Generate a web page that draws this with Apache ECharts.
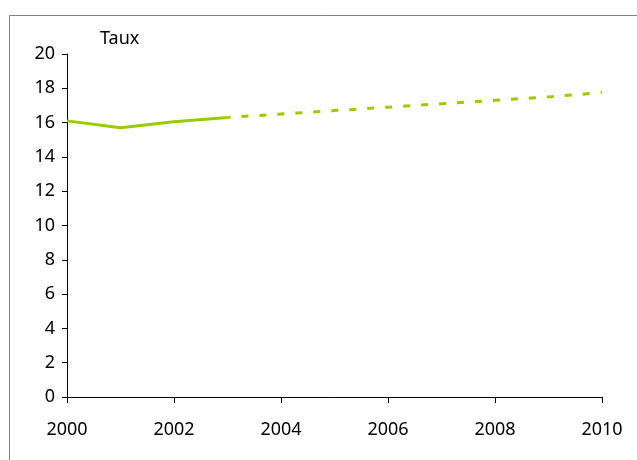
<!DOCTYPE html>
<html>
<head>
<meta charset="utf-8">
<script src="https://cdn.jsdelivr.net/npm/echarts@6/dist/echarts.min.js"></script>
<style>
html,body{margin:0;padding:0;background:#fff;}
#c{width:637px;height:460px;}
</style>
</head>
<body>
<div id="c"></div>
<script>
const yAxisName = 'Taux';
const observedYears = [2000, 2001, 2002, 2003];
const observedValues = [16.1, 15.7, 16.05, 16.3];
const projectedYears = [2003, 2004, 2005, 2006, 2007, 2008, 2009, 2010];
const projectedValues = [16.3, 16.5, 16.7, 16.9, 17.1, 17.3, 17.5, 17.75];

const chart = echarts.init(document.getElementById('c'), null, {renderer: 'canvas'});
const font = 'Noto Sans';
chart.setOption({
  animation: false,
  backgroundColor: '#fff',
  textStyle: {fontFamily: font},
  grid: {left: 67, right: 35, top: 54, bottom: 63},
  graphic: [
    {type: 'line', shape: {x1: 9.5, y1: 15.5, x2: 637, y2: 15.5}, style: {stroke: '#808080', lineWidth: 1}},
    {type: 'line', shape: {x1: 9.5, y1: 15.5, x2: 9.5, y2: 460}, style: {stroke: '#808080', lineWidth: 1}}
  ],
  xAxis: {
    type: 'value', min: 2000, max: 2010, interval: 2,
    axisLine: {show: true, onZero: false, lineStyle: {color: '#000', width: 1}},
    axisTick: {show: true, length: 6, inside: false, lineStyle: {color: '#000'}},
    splitLine: {show: false},
    axisLabel: {color: '#000', fontSize: 18, fontFamily: font, margin: 24, formatter: v => String(v)}
  },
  yAxis: {
    type: 'value', min: 0, max: 20, interval: 2,
    name: yAxisName,
    nameLocation: 'end',
    nameGap: 6,
    nameTextStyle: {color: '#000', fontSize: 18, fontFamily: font, align: 'left', padding: [0, 0, 0, 33]},
    axisLine: {show: true, lineStyle: {color: '#000', width: 1}},
    axisTick: {show: true, length: 5, lineStyle: {color: '#000'}},
    splitLine: {show: false},
    axisLabel: {color: '#000', fontSize: 18, fontFamily: font, margin: 12}
  },
  series: [
    {
      type: 'line', symbol: 'none',
      data: observedYears.map((y, i) => [y, observedValues[i]]),
      lineStyle: {color: '#99cc00', width: 3}
    },
    {
      type: 'line', symbol: 'none',
      data: projectedYears.map((y, i) => [y, projectedValues[i]]),
      lineStyle: {color: '#99cc00', width: 3, type: [7, 11], dashOffset: -14}
    }
  ]
});
</script>
</body>
</html>
